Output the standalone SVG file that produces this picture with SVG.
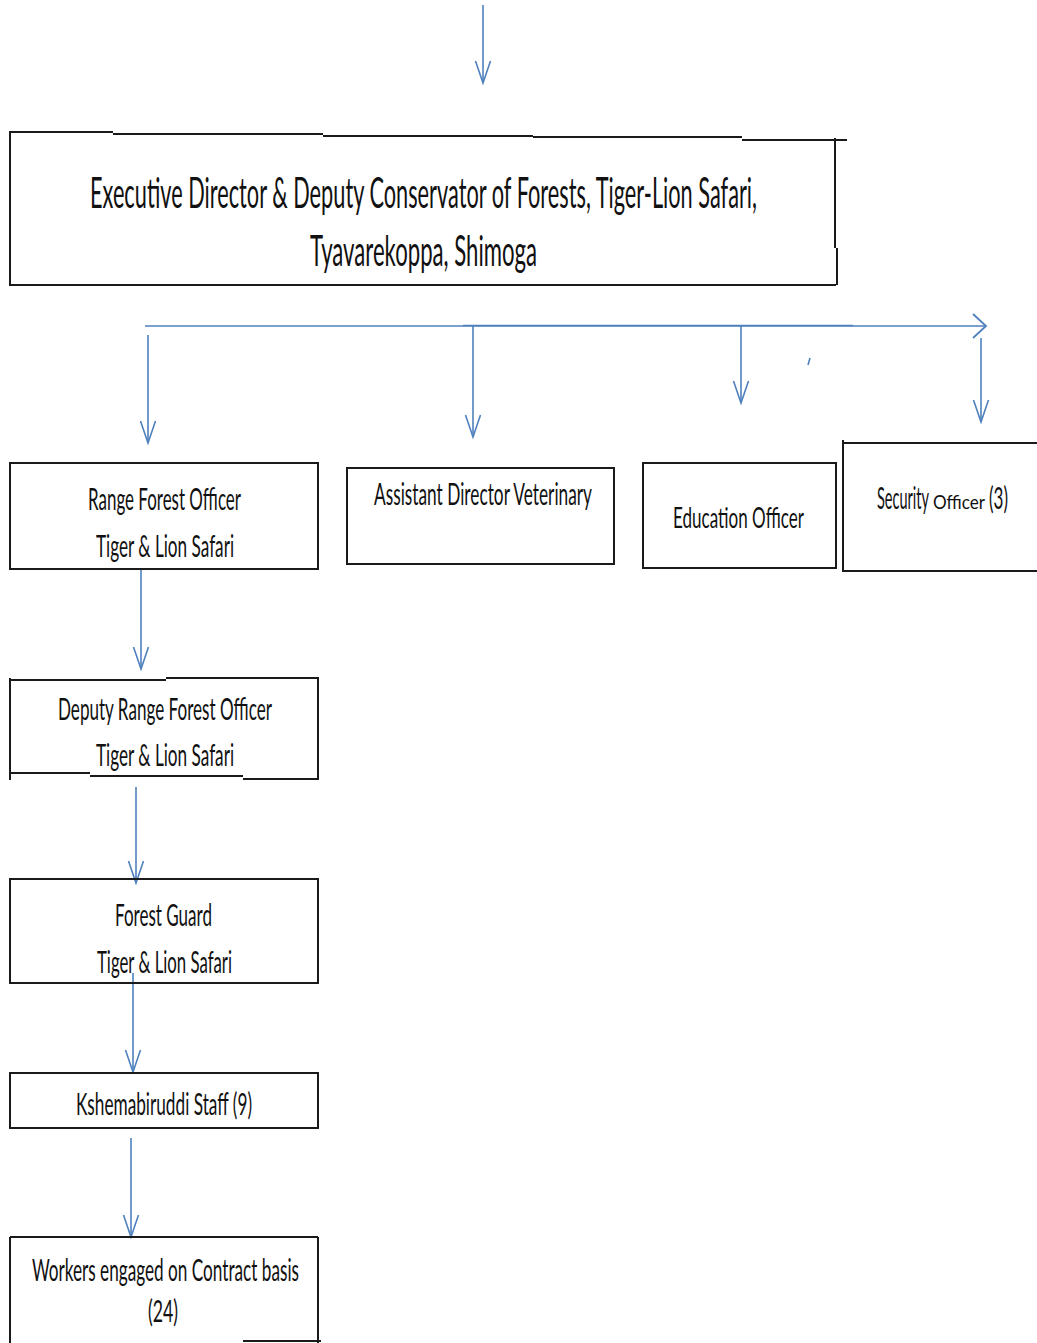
<svg xmlns="http://www.w3.org/2000/svg" width="1037" height="1343" viewBox="0 0 1037 1343">
<style>
.bx{fill:none;stroke:#1a1a1a;stroke-width:2}
.cn{fill:none;stroke:#4F81BD;stroke-width:1.6}
.t{font-family:Lato,"Liberation Sans",sans-serif;fill:#111}
</style>
<defs>
<marker id="ah" markerUnits="userSpaceOnUse" orient="auto" overflow="visible" markerWidth="1" markerHeight="1">
<path d="M-22,-7.5 L0,0 L-22,7.5" fill="none" stroke="#4F81BD" stroke-width="1.6"/>
</marker>
<marker id="ah2" markerUnits="userSpaceOnUse" orient="auto" overflow="visible" markerWidth="1" markerHeight="1">
<path d="M-13,-12 L0,0 L-13,12" fill="none" stroke="#4F81BD" stroke-width="1.8"/>
</marker>
</defs>
<rect width="1037" height="1343" fill="#fff"/>

<g id="connectors">
<path class="cn" d="M483,5 V83" marker-end="url(#ah)"/>
<path class="cn" d="M145,326 H986" stroke-width="2.2" marker-end="url(#ah2)"/>
<path class="cn" d="M463,325.5 H853" stroke-width="3.2"/>
<path class="cn" d="M148,335 V443" marker-end="url(#ah)"/>
<path class="cn" d="M473,326 V437" marker-end="url(#ah)"/>
<path class="cn" d="M741,326 V403" marker-end="url(#ah)"/>
<path class="cn" d="M981,338 V422" marker-end="url(#ah)"/>
<path class="cn" d="M810,358 L808,365"/>
<path class="cn" d="M141,569 V669" marker-end="url(#ah)"/>
<path class="cn" d="M136,787 V883" marker-end="url(#ah)"/>
<path class="cn" d="M133,973 V1072" marker-end="url(#ah)"/>
<path class="cn" d="M131,1138 V1237" marker-end="url(#ah)"/>
</g>

<g id="node-executive">
<path class="bx" d="M9,132 H113 M113,134 H323 M323,136 H533 M533,137 H742 M742,140 H847 M10,132 V285 H836 M835,138 V248 M837,248 V285"/>
<text class="t" transform="translate(90,208) scale(1,2.2)" font-size="19.5" textLength="667" lengthAdjust="spacingAndGlyphs">Executive Director &amp; Deputy Conservator of Forests, Tiger-Lion Safari,</text>
<text class="t" transform="translate(310,266) scale(1,2)" font-size="21.5" textLength="227" lengthAdjust="spacingAndGlyphs">Tyavarekoppa, Shimoga</text>
</g>

<g id="node-range">
<rect class="bx" x="10" y="463" width="308" height="106"/>
<text class="t" transform="translate(88,510) scale(1,2)" font-size="15.5" textLength="153" lengthAdjust="spacingAndGlyphs">Range Forest Officer</text>
<text class="t" transform="translate(96,557) scale(1,2.14)" font-size="14.5" textLength="138" lengthAdjust="spacingAndGlyphs">Tiger &amp; Lion Safari</text>
</g>

<g id="node-assistant">
<rect class="bx" x="347" y="468" width="267" height="96"/>
<text class="t" transform="translate(374,505) scale(1,2)" font-size="15.5" textLength="218" lengthAdjust="spacingAndGlyphs">Assistant Director Veterinary</text>
</g>

<g id="node-education">
<rect class="bx" x="643" y="463" width="193" height="105"/>
<text class="t" transform="translate(673,528) scale(1,1.93)" font-size="15" textLength="131" lengthAdjust="spacingAndGlyphs">Education Officer</text>
</g>

<g id="node-security">
<path class="bx" d="M843,443 H1037 M843,440 V571 H1037"/>
<text class="t" transform="translate(877,509) scale(1,2.38)" font-size="13" textLength="52" lengthAdjust="spacingAndGlyphs">Security</text>
<text class="t" transform="translate(933,509) scale(1,1.43)" font-size="14" textLength="52" lengthAdjust="spacingAndGlyphs">Officer</text>
<text class="t" transform="translate(989,509) scale(1,2.38)" font-size="13" textLength="19" lengthAdjust="spacingAndGlyphs">(3)</text>
</g>

<g id="node-deputy">
<path class="bx" d="M10,680 H166 M166,678 H318 M10,678 V780 M10,773 H90 M90,776 H243 M243,779 H319 M318,677 V779"/>
<text class="t" transform="translate(58,720) scale(1,2)" font-size="15.5" textLength="214" lengthAdjust="spacingAndGlyphs">Deputy Range Forest Officer</text>
<text class="t" transform="translate(96,766) scale(1,2.14)" font-size="14.5" textLength="138" lengthAdjust="spacingAndGlyphs">Tiger &amp; Lion Safari</text>
</g>

<g id="node-forestguard">
<rect class="bx" x="10" y="879" width="308" height="104"/>
<text class="t" transform="translate(115,926) scale(1,1.94)" font-size="16" textLength="97" lengthAdjust="spacingAndGlyphs">Forest Guard</text>
<text class="t" transform="translate(97,973) scale(1,2.14)" font-size="14.5" textLength="135" lengthAdjust="spacingAndGlyphs">Tiger &amp; Lion Safari</text>
</g>

<g id="node-kshemabiruddi">
<rect class="bx" x="10" y="1073" width="308" height="55"/>
<text class="t" transform="translate(76,1115) scale(1,2.07)" font-size="15" textLength="176" lengthAdjust="spacingAndGlyphs">Kshemabiruddi Staff (9)</text>
</g>

<g id="node-workers">
<path class="bx" d="M10,1237 H318 M10,1237 V1343 M318,1237 V1343 M243,1341 H321"/>
<text class="t" transform="translate(32,1281) scale(1,1.94)" font-size="16" textLength="267" lengthAdjust="spacingAndGlyphs">Workers engaged on Contract basis</text>
<text class="t" transform="translate(148,1322) scale(1,2.07)" font-size="15" textLength="30" lengthAdjust="spacingAndGlyphs">(24)</text>
</g>
</svg>
